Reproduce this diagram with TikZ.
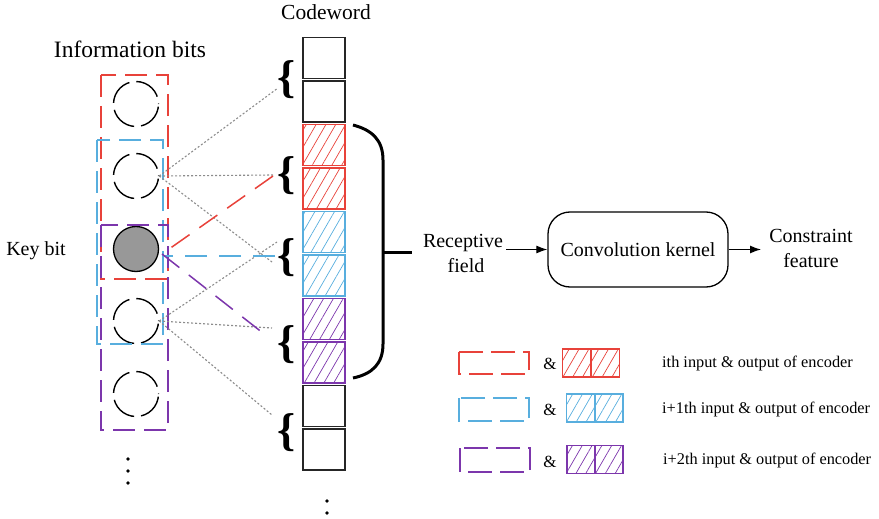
\documentclass[tikz,border=0pt]{standalone}
\usepackage{fontspec}
\setmainfont{Liberation Serif}
\usetikzlibrary{arrows.meta,patterns.meta}

\definecolor{cred}{RGB}{232,66,58}
\definecolor{cblue}{RGB}{88,174,222}
\definecolor{cpurple}{RGB}{124,54,172}
\definecolor{bitgray}{RGB}{152,152,152}

\begin{document}
\begin{tikzpicture}[x=1pt,y=-1pt,
  lbl/.style={font=\fontsize{20}{24}\selectfont, inner sep=0pt, anchor=base},
  leg/.style={font=\fontsize{16.3}{20}\selectfont, inner sep=0pt, anchor=base west},
  bitc/.style={circle, draw=black, line width=1.4pt, minimum size=45pt, inner sep=0pt,
    dash pattern=on 27.5pt off 7pt, dash phase=27pt},
  keybit/.style={circle, draw=black, fill=bitgray, line width=1.3pt, minimum size=45pt, inner sep=0pt},
  sq/.style={draw=black!85, line width=1.4pt, minimum width=42pt, minimum height=41pt, inner sep=0pt},
  hsq/.style={draw=#1, line width=1.3pt, minimum width=42pt, minimum height=41pt, inner sep=0pt,
    pattern={Lines[angle=60,distance=8.5pt,line width=0.7pt]}, pattern color=#1},
  lsq/.style={hsq=#1, minimum width=28pt, minimum height=28pt},
  grp/.style={draw=#1, line width=1.5pt, dash pattern=on 22pt off 9pt},
  link/.style={draw=#1, line width=1.5pt, dash pattern=on 22pt off 12pt},
  dotline/.style={draw=black!45, line width=1.1pt, dash pattern=on 2pt off 2pt},
  brace/.style={font=\fontsize{46}{46}\selectfont\bfseries, inner sep=0pt},
  arr/.style={-{Latex[length=11pt,width=8pt]}, line width=1.2pt},
]
\useasboundingbox (0,0) rectangle (879,519);

% titles
\node[lbl, font=\fontsize{23.5}{28}\selectfont] (tinfo) at (130,58) {Information bits};
\node[lbl, font=\fontsize{21.5}{26}\selectfont] (tcode) at (326,20) {Codeword};
\node[lbl] (tkey) at (36,255) {Key bit};

% information bits
\node[bitc] (b1) at (136,104) {};
\node[bitc] (b2) at (136,176) {};
\node[keybit] (b3) at (136,249) {};
\node[bitc] (b4) at (136,321) {};
\node[bitc] (b5) at (136,394) {};
\foreach \yy in {459,471,483} \fill (128,\yy) circle (1.8pt);

% input windows of the encoder
\draw[grp=cred] (101,75) rectangle (168,279);
\draw[grp=cblue] (97,140) rectangle (163,344);
\draw[grp=cpurple] (101,225) rectangle (168,430);

% codeword bits
\node[sq] (c1) at (324,58) {};
\node[sq] (c2) at (324,101.5) {};
\node[hsq=cred] (c3) at (324,145) {};
\node[hsq=cred] (c4) at (324,188.5) {};
\node[hsq=cblue] (c5) at (324,232) {};
\node[hsq=cblue] (c6) at (324,275.5) {};
\node[hsq=cpurple] (c7) at (324,319) {};
\node[hsq=cpurple] (c8) at (324,362.5) {};
\node[sq] (c9) at (324,406) {};
\node[sq] (c10) at (324,449.5) {};
\foreach \yy in {501,513} \fill (327,\yy) circle (1.8pt);

% braces grouping codeword pairs
\node[brace] (br1) at (287,80) {\{};
\node[brace] (br2) at (287,176) {\{};
\node[brace] (br3) at (287,258) {\{};
\node[brace] (br4) at (287,345) {\{};
\node[brace] (br5) at (287,433) {\{};

% end points next to the braces
\coordinate (p1) at (278,88);
\coordinate (p2) at (273,175);
\coordinate (p3) at (272,262);
\coordinate (p4) at (277,242);
\coordinate (p5) at (272,328);
\coordinate (p6) at (272,415);
\coordinate (qr) at (273,176);
\coordinate (qb) at (275,256);
\coordinate (qp) at (268,337);
\coordinate (kin) at (162,254);
\coordinate (kinb) at (162,256);

% connections of ordinary bits
\draw[dotline] (b2.east) -- (p1);
\draw[dotline] (b2.east) -- (p2);
\draw[dotline] (b2.east) -- (p3);
\draw[dotline] (b4.east) -- (p4);
\draw[dotline] (b4.east) -- (p5);
\draw[dotline] (b4.east) -- (p6);

% connections of the key bit
\draw[link=cred] (qr) -- (kin);
\draw[link=cblue] (qb) -- (kinb);
\draw[link=cpurple] (kin) -- (qp);

% receptive field bracket
\draw[line width=3pt] (353,125) .. controls (372,130) and (383,140) .. (383,160)
  -- (383,344) .. controls (383,364) and (372,374) .. (353,378);
\coordinate (rtick) at (412,252);
\draw[line width=3pt] (383,252) -- (rtick);

% convolution stage
\node[lbl] (rf1) at (463,247) {Receptive};
\node[lbl] (rf2) at (466,272) {field};
\node[draw, line width=1.3pt, rounded corners=22pt, minimum width=180pt, minimum height=75pt,
  font=\fontsize{20}{24}\selectfont] (kern) at (638,249.5) {Convolution kernel};
\coordinate (rfout) at (506,249.5);
\coordinate (cfin) at (761,249.5);
\draw[arr] (rfout) -- (kern.west);
\draw[arr] (kern.east) -- (cfin);
\node[lbl] (cf1) at (811,242) {Constraint};
\node[lbl] (cf2) at (811,267) {feature};

% legend
\draw[grp=cred, line width=1.3pt, dash pattern=on 24pt off 8pt] (459,352) rectangle (529,374);
\draw[grp=cblue, line width=1.3pt, dash pattern=on 24pt off 8pt] (459,398) rectangle (529,421);
\draw[grp=cpurple, line width=1.3pt, dash pattern=on 24pt off 8pt] (460,448) rectangle (530,472);
\node[lbl, font=\fontsize{17}{20}\selectfont] (am1) at (550,369) {\&};
\node[lbl, font=\fontsize{17}{20}\selectfont] (am2) at (550,415) {\&};
\node[lbl, font=\fontsize{17}{20}\selectfont] (am3) at (550,467) {\&};
\node[lsq=cred] (l1a) at (576.5,363) {};
\node[lsq=cred] (l1b) at (605.5,363) {};
\node[lsq=cblue] (l2a) at (580.5,408) {};
\node[lsq=cblue] (l2b) at (609,408) {};
\node[lsq=cpurple] (l3a) at (581,459.5) {};
\node[lsq=cpurple] (l3b) at (609,459.5) {};
\node[leg] (lt1) at (662,367) {ith input \& output of encoder};
\node[leg] (lt2) at (662,413) {i+1th input \& output of encoder};
\node[leg] (lt3) at (663,464) {i+2th input \& output of encoder};
\end{tikzpicture}
\end{document}
